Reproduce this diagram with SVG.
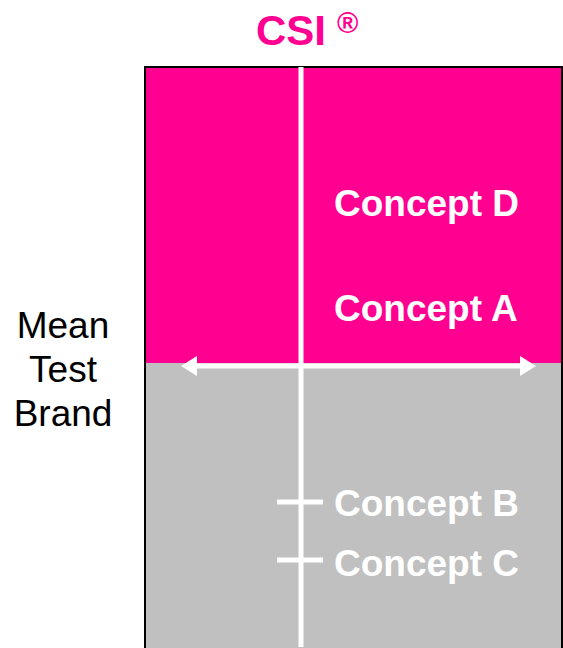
<svg xmlns="http://www.w3.org/2000/svg" width="563" height="648" viewBox="0 0 563 648">
<style>
.lbl{font-family:"Liberation Sans",Arial,sans-serif;font-weight:bold;font-size:37px;fill:#FFFFFF}
.side{font-family:"Liberation Sans",Arial,sans-serif;font-size:37px;fill:#000000;text-anchor:middle}
.title{font-family:"Liberation Sans",Arial,sans-serif;font-weight:bold;fill:#FF0090}
.wl{stroke:#FFFFFF;fill:none}
</style>
<defs>
<marker id="ah" markerWidth="4" markerHeight="4" refX="0" refY="2" orient="auto-start-reverse" markerUnits="strokeWidth">
<path d="M0,0 L3.2,2 L0,4 Z" fill="#FFFFFF"/>
</marker>
</defs>
<g id="title">
<text class="title" x="256" y="45" font-size="42">CSI</text>
<text class="title" x="337" y="33" font-size="29">®</text>
</g>
<g id="quadrants">
<rect x="145" y="67" width="417" height="300" fill="#FF0090"/>
<rect x="145" y="363" width="417" height="290" fill="#C0C0C0"/>
<rect x="145" y="67" width="417" height="590" fill="none" stroke="#000000" stroke-width="2"/>
</g>
<g id="connectors">
<line class="wl" x1="301" y1="67" x2="301" y2="647" stroke-width="5"/>
<line class="wl" x1="197" y1="366" x2="520" y2="366" stroke-width="5" marker-start="url(#ah)" marker-end="url(#ah)"/>
<line class="wl" x1="277" y1="502" x2="323" y2="502" stroke-width="5"/>
<line class="wl" x1="277" y1="560" x2="323" y2="560" stroke-width="5"/>
</g>
<g id="concept-d"><text class="lbl" x="334" y="216">Concept D</text></g>
<g id="concept-a"><text class="lbl" x="334" y="321">Concept A</text></g>
<g id="concept-b"><text class="lbl" x="334" y="516">Concept B</text></g>
<g id="concept-c"><text class="lbl" x="334" y="576">Concept C</text></g>
<g id="mean-test-brand">
<text class="side" x="63" y="338">Mean</text>
<text class="side" x="63" y="382">Test</text>
<text class="side" x="63" y="426">Brand</text>
</g>
</svg>
